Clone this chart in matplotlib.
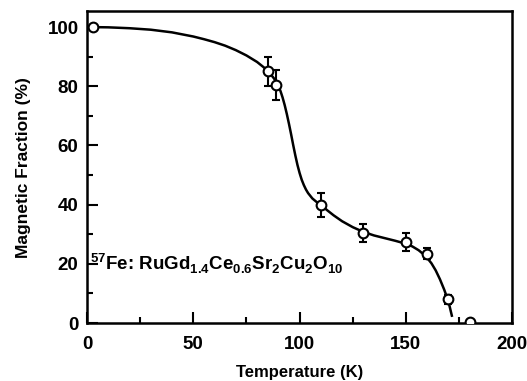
import matplotlib
matplotlib.use("Agg")
import matplotlib.pyplot as plt
from matplotlib.ticker import MultipleLocator

plt.rcParams['font.family'] = ['Liberation Sans', 'DejaVu Sans']
plt.rcParams['mathtext.fontset'] = 'custom'
plt.rcParams['mathtext.rm'] = 'Liberation Sans:bold'
plt.rcParams['mathtext.bf'] = 'Liberation Sans:bold'

# measured points
temp = [3, 85, 89, 110, 130, 150, 160, 170, 180]
frac = [100, 85, 80.5, 40, 30.5, 27.5, 23.5, 8, 0.5]
err = [0, 5, 5, 4, 3, 3, 2, 1.5, 0]

# fitted guide curve
fit_t = [0, 10, 20, 30, 40, 50, 55, 60, 65, 70, 75, 80, 84, 86, 88, 90, 91, 92, 93,
         94, 95, 96, 97, 98, 99, 100, 101, 102, 103, 104, 106, 108, 110, 113, 116,
         120, 125, 130, 135, 140, 145, 150, 153, 156, 158, 160, 162, 164, 166, 168,
         170, 171.6]
fit_f = [100, 99.9, 99.6, 99.1, 98.2, 96.8, 95.9, 94.9, 93.7, 92.2, 90.4, 88.2, 85.9,
         84.4, 82.6, 80.1, 78.4, 76.2, 73.6, 70.6, 67.3, 63.8, 60.1, 56.6, 53.4, 50.7,
         48.4, 46.6, 45.1, 43.9, 42.1, 40.9, 39.9, 38.1, 36.4, 34.4, 32.4, 30.8, 29.6,
         28.7, 27.8, 26.8, 25.9, 24.6, 23.4, 22.0, 20.2, 17.8, 14.8, 11.3, 7.3, 2.5]

fig = plt.figure(figsize=(5.27, 3.81), dpi=100)
ax = fig.add_axes([0.165, 0.152, 0.807, 0.819])

ax.plot(fit_t, fit_f, color='black', lw=1.8, zorder=2)
ax.errorbar(temp, frac, yerr=err, fmt='o', mfc='white', mec='black', mew=1.5,
            ms=7, ecolor='black', elinewidth=1.5, capsize=3, capthick=1.5, zorder=3)

ax.set_xlim(0, 200)
ax.set_ylim(0, 105.4)
ax.xaxis.set_major_locator(MultipleLocator(50))
ax.xaxis.set_minor_locator(MultipleLocator(25))
ax.yaxis.set_major_locator(MultipleLocator(20))
ax.yaxis.set_minor_locator(MultipleLocator(10))
ax.tick_params(which='both', direction='in', width=1.5, labelsize=13.5)
ax.tick_params(axis='x', pad=9)
ax.tick_params(axis='y', pad=6)
ax.tick_params(which='major', length=8)
ax.tick_params(which='minor', length=4)
for lbl in ax.get_xticklabels() + ax.get_yticklabels():
    lbl.set_fontweight('bold')
for sp in ax.spines.values():
    sp.set_linewidth(1.8)

ax.set_xlabel('Temperature (K)', fontsize=12, fontweight='bold', labelpad=9)
ax.set_ylabel('Magnetic Fraction (%)', fontsize=12.5, fontweight='bold', labelpad=12)

ax.text(1.5, 20, r'$^{57}$Fe: RuGd$_{1.4}$Ce$_{0.6}$Sr$_2$Cu$_2$O$_{10}$',
        fontsize=13.5, fontweight='bold', va='center', ha='left')

fig.savefig('out.png', dpi=100)
